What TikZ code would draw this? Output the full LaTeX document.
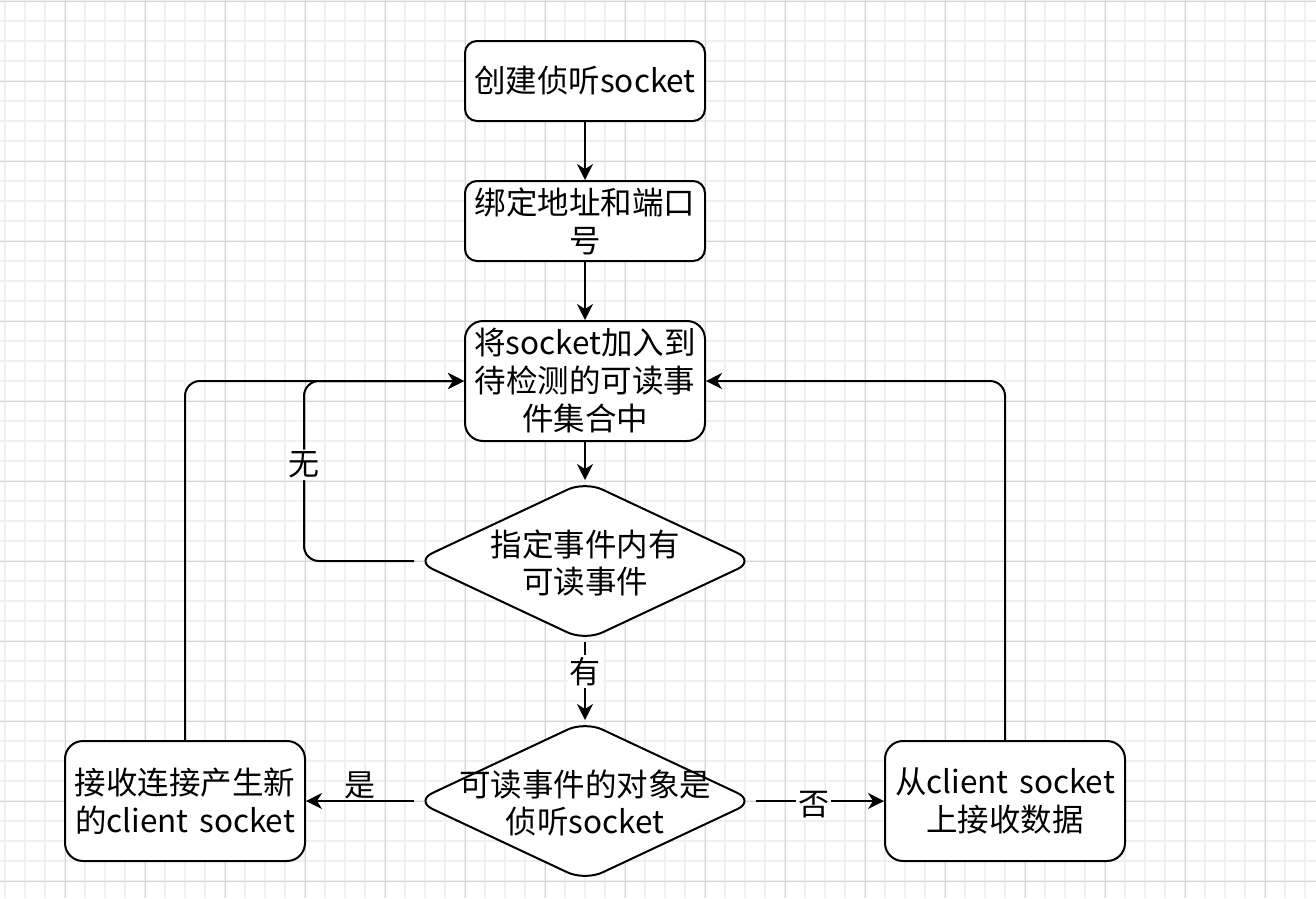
\documentclass[tikz,border=0pt]{standalone}
\usepackage{fontspec}
\setmainfont{Noto Sans CJK SC}
\usetikzlibrary{arrows.meta,shapes.geometric}
\definecolor{gridminor}{HTML}{F0F0F0}
\definecolor{gridmajor}{HTML}{D3D3D3}
\tikzset{
  box/.style={draw=black, line width=2pt, fill=white, rectangle, minimum width=240pt,
    text width=238pt, align=center, inner sep=0pt,
    font=\fontsize{31.5}{38}\selectfont},
  boxs/.style={box, minimum height=80pt, rounded corners=12pt},
  boxl/.style={box, minimum height=120pt, rounded corners=18pt},
  dia/.style={draw=black, line width=2pt, fill=white, diamond, minimum width=340pt,
    minimum height=160pt, inner sep=0pt, rounded corners=19pt},
  diatext/.style={align=center, inner sep=0pt, font=\fontsize{31.5}{37}\selectfont},
  arr/.style={draw=black, line width=2pt, -{Stealth[length=16pt,width=16pt,inset=5pt]}},
  lbl/.style={fill=white, inner sep=2pt, font=\fontsize{31}{36}\selectfont},
}
\begin{document}
\begin{tikzpicture}[x=1pt,y=-1pt]
\useasboundingbox (0,0) rectangle (1316,898);
\fill[white] (0,0) rectangle (1316,898);
% grid
\foreach \gx in {5,25,...,1316} \draw[gridminor, line width=1.5pt] (\gx,0) -- (\gx,898);
\foreach \gy in {1,21,...,898} \draw[gridminor, line width=1.5pt] (0,\gy) -- (1316,\gy);
\foreach \gx in {65,145,...,1316} \draw[gridmajor, line width=1pt] (\gx,0) -- (\gx,898);
\foreach \gy in {1,81,...,898} \draw[gridmajor, line width=1pt] (0,\gy) -- (1316,\gy);

% nodes
\node[boxs] (b1) at (585,81) {创建侦听socket};
\node[boxs] (b2) at (585,221) {绑定地址和端口\\号};
\node[boxl] (b3) at (585,381) {将socket加入到\\待检测的可读事\\件集合中};
\node[dia] (d1) at (585,561) {};
\node[diatext] (t1) at (585,563) {指定事件内有\\可读事件};
\node[dia] (d2) at (585,801) {};
\node[diatext] (t2) at (585,803) {可读事件的对象是\\侦听socket};
\node[boxl] (bl) at (185,801) {接收连接产生新\\的client socket};
\node[boxl] (br) at (1005,801) {从client socket\\上接收数据};

% connectors
\draw[arr] (b1.south) -- (b2.north);
\draw[arr] (b2.south) -- (b3.north);
\draw[arr] (b3.south) -- (d1.north);
\draw[arr, rounded corners=15pt] (d1.west) -- ++(-110,0) |- node[lbl, pos=0.267]{无} (b3.west);
\draw[arr] (d1.south) -- node[lbl, pos=0.375]{有} (d2.north);
\draw[arr] (d2.west) -- node[lbl, pos=0.5, yshift=16pt, fill=none]{是} (bl.east);
\draw[arr] (d2.east) -- node[lbl, pos=0.45, yshift=-4pt]{否} (br.west);
\draw[arr, rounded corners=15pt] (bl.north) |- (b3.west);
\draw[arr, rounded corners=15pt] (br.north) |- (b3.east);
\end{tikzpicture}
\end{document}
